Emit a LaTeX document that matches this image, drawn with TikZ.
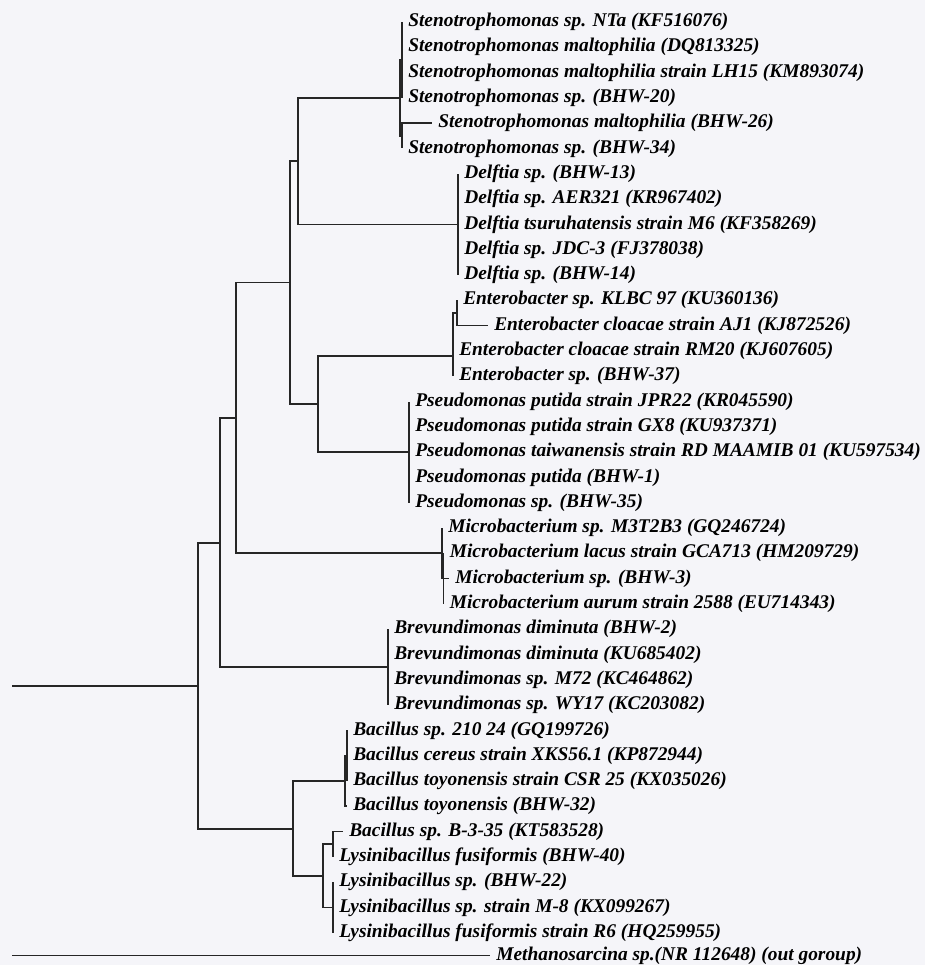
\documentclass[tikz,border=0pt]{standalone}
\usepackage{fontspec}
\setmainfont{Liberation Serif}
\definecolor{paper}{RGB}{245,245,249}
\begin{document}
\begin{tikzpicture}
[x=0.75pt,y=-18.975pt,
  branchDecorate/.style={-,line width=1.25pt,draw=black!85,to path={|- (\tikztotarget)}},%
  leafDecorate/.style={anchor=west,inner xsep=4.5pt,inner ysep=0pt,
    font=\fontsize{14.55}{17}\selectfont\bfseries\itshape}]
\useasboundingbox (0,0.1304) rectangle (925,38.273);
\fill[paper] (0,0.1304) rectangle (925,38.273);
%% internal nodes (x in pixels, y in rows)
\foreach \nodename/\x/\y in {
  base/12/27.25, obase/12/37.9,
  root/198/27.25, prot/220/21.6, hgp/236/16.65, gam/290/11.3,
  stde/298/6.5, steno/400/4, sA/402/2.5, sB/402/5.5, delf/458/9,
  enps/318/16.1, entero/453/14.2, eA/457/12.5, pseu/409/18,
  micro/442/22, mB/443.5/23, brev/388/26.5,
  firm/293/32.9, bac/345/31, bB/347/30,
  lys/323/34.75, lA/333/33.5, lB/333/36}
{
  \coordinate (\nodename) at (\x,\y);
}
%% branches between internal nodes
\path
\foreach \startnode/\endnode in {
  base/root, root/prot, root/firm, prot/hgp, prot/brev,
  hgp/gam, hgp/micro, gam/stde, gam/enps, stde/steno, stde/delf,
  steno/sA, steno/sB, enps/entero, enps/pseu, entero/eA, micro/mB,
  firm/bac, firm/lys, bac/bB, lys/lA, lys/lB}
{
  (\startnode) edge[branchDecorate] (\endnode)
};
%% leaves or taxa
\foreach \nodename/\parent/\x/\y/\taxon in {
  t1/sA/402/1/{Stenotrophomonas sp. NTa (KF516076)},
  t2/sA/402/2/{Stenotrophomonas maltophilia (DQ813325)},
  t3/sA/402/3/{Stenotrophomonas maltophilia strain LH15 (KM893074)},
  t4/sA/402/4/{Stenotrophomonas sp. (BHW-20)},
  t5/sB/432/5/{Stenotrophomonas maltophilia (BHW-26)},
  t6/sB/402/6/{Stenotrophomonas sp. (BHW-34)},
  t7/delf/458/7/{Delftia sp. (BHW-13)},
  t8/delf/458/8/{Delftia sp. AER321 (KR967402)},
  t9/delf/458/9/{Delftia tsuruhatensis strain M6 (KF358269)},
  t10/delf/458/10/{Delftia sp. JDC-3 (FJ378038)},
  t11/delf/458/11/{Delftia sp. (BHW-14)},
  t12/eA/457/12/{Enterobacter sp. KLBC 97 (KU360136)},
  t13/eA/488/13/{Enterobacter cloacae strain AJ1 (KJ872526)},
  t14/entero/453/14/{Enterobacter cloacae strain RM20 (KJ607605)},
  t15/entero/453/15/{Enterobacter sp. (BHW-37)},
  t16/pseu/409/16/{Pseudomonas putida strain JPR22 (KR045590)},
  t17/pseu/409/17/{Pseudomonas putida strain GX8 (KU937371)},
  t18/pseu/409/18/{Pseudomonas taiwanensis strain RD MAAMIB 01 (KU597534)},
  t19/pseu/409/19/{Pseudomonas putida (BHW-1)},
  t20/pseu/409/20/{Pseudomonas sp. (BHW-35)},
  t21/micro/442/21/{Microbacterium sp. M3T2B3 (GQ246724)},
  t22/mB/443.5/22/{Microbacterium lacus strain GCA713 (HM209729)},
  t23/mB/449/23/{Microbacterium sp. (BHW-3)},
  t24/mB/443.5/24/{Microbacterium aurum strain 2588 (EU714343)},
  t25/brev/388/25/{Brevundimonas diminuta (BHW-2)},
  t26/brev/388/26/{Brevundimonas diminuta (KU685402)},
  t27/brev/388/27/{Brevundimonas sp. M72 (KC464862)},
  t28/brev/388/28/{Brevundimonas sp. WY17 (KC203082)},
  t29/bB/347/29/{Bacillus sp. 210 24 (GQ199726)},
  t30/bB/347/30/{Bacillus cereus strain XKS56.1 (KP872944)},
  t31/bB/347/31/{Bacillus toyonensis strain CSR 25 (KX035026)},
  t32/bac/347/32/{Bacillus toyonensis (BHW-32)},
  t33/lA/343/33/{Bacillus sp. B-3-35 (KT583528)},
  t34/lA/333/34/{Lysinibacillus fusiformis (BHW-40)},
  t35/lB/333/35/{Lysinibacillus sp. (BHW-22)},
  t36/lB/333/36/{Lysinibacillus sp. strain M-8 (KX099267)},
  t37/lB/333/37/{Lysinibacillus fusiformis strain R6 (HQ259955)},
  t38/obase/490/37.9/{Methanosarcina sp.(NR 112648) (out goroup)}}
{
  \node (\nodename) at (\x,\y) [leafDecorate] {\taxon};
  \path (\parent) edge[branchDecorate] (\nodename.west);
}
\end{tikzpicture}
\end{document}
